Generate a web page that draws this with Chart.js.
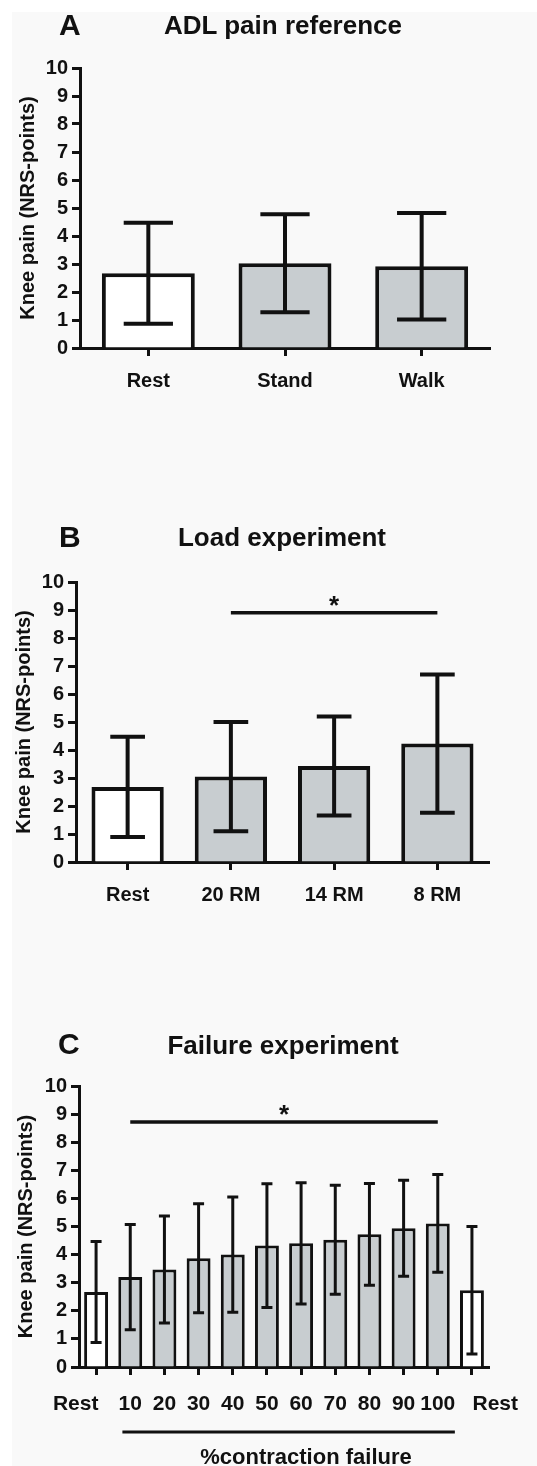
<!DOCTYPE html>
<html>
<head>
<meta charset="utf-8">
<title>Knee pain</title>
<script src="https://cdn.jsdelivr.net/npm/chart.js@4.4.1/dist/chart.umd.min.js"></script>
<style>
  html,body{margin:0;padding:0;background:#fff;}
  body{position:relative;width:537px;height:1466px;overflow:hidden;font-family:'Liberation Sans',Arial,Helvetica,sans-serif;color:#111;}
  #bg{position:absolute;left:12px;top:12px;right:0;bottom:0;background:#f9f9f9;}
  canvas{position:absolute;left:0;}
  .txt{position:absolute;font-weight:bold;white-space:nowrap;line-height:1;}
  .mid{transform:translateX(-50%);}
</style>
</head>
<body>
<div id="bg"></div>
<canvas id="chartA" width="537" height="420" style="top:0"></canvas>
<canvas id="chartB" width="537" height="420" style="top:500px"></canvas>
<canvas id="chartC" width="537" height="466" style="top:1000px"></canvas>

<div class="txt" style="left:59px;top:10px;font-size:30px">A</div>
<div class="txt mid" style="left:283px;top:12px;font-size:26px">ADL pain reference</div>
<div class="txt" style="left:59px;top:522px;font-size:30px">B</div>
<div class="txt mid" style="left:282px;top:524px;font-size:26px">Load experiment</div>
<div class="txt" style="left:58px;top:1029px;font-size:30px">C</div>
<div class="txt mid" style="left:283px;top:1032px;font-size:26px">Failure experiment</div>
<div class="txt mid" style="left:306px;top:1446px;font-size:22px">%contraction failure</div>

<script>
// ---------------- DATA ----------------
const adlLabels = ['Rest', 'Stand', 'Walk'];
const adlMean = [2.67, 3.03, 2.92];
const adlSD = [1.80, 1.75, 1.90];

const loadLabels = ['Rest', '20 RM', '14 RM', '8 RM'];
const loadMean = [2.68, 3.05, 3.43, 4.23];
const loadSD = [1.79, 1.95, 1.77, 2.47];
const loadSig = [1, 3, 8.9];          // from category, to category, level

const failLabels = ['Rest', '10', '20', '30', '40', '50', '60', '70', '80', '90', '100', 'Rest'];
const failMean = [2.67, 3.20, 3.47, 3.87, 4.00, 4.32, 4.40, 4.53, 4.72, 4.94, 5.11, 2.73];
const failSD = [1.80, 1.87, 1.90, 1.94, 2.05, 2.20, 2.16, 1.94, 1.81, 1.71, 1.74, 2.27];
const failSig = [1, 10, 8.72];
const failGroup = [0.77, 10.5];       // %contraction failure bracket

const FONT = "'Liberation Sans', Arial, Helvetica, sans-serif";
const INK = '#111';
const GREY = '#c8cdd0';

// ---------------- PLUGINS ----------------
const errorBars = {
  id: 'errorBars',
  afterDatasetsDraw(chart, args, o) {
    const {ctx, scales: {y}} = chart;
    const means = chart.data.datasets[0].data;
    ctx.save();
    ctx.strokeStyle = INK;
    ctx.lineWidth = o.width;
    chart.getDatasetMeta(0).data.forEach((bar, i) => {
      const hi = y.getPixelForValue(means[i] + o.sd[i]);
      const lo = y.getPixelForValue(means[i] - o.sd[i]);
      const half = bar.width * o.cap / 2;
      ctx.beginPath();
      ctx.moveTo(bar.x, lo); ctx.lineTo(bar.x, hi);
      ctx.moveTo(bar.x - half, hi); ctx.lineTo(bar.x + half, hi);
      ctx.moveTo(bar.x - half, lo); ctx.lineTo(bar.x + half, lo);
      ctx.stroke();
    });
    ctx.restore();
  }
};

const sigLine = {
  id: 'sigLine',
  afterDraw(chart, args, o) {
    const {ctx, chartArea, scales: {x, y}} = chart;
    ctx.save();
    ctx.strokeStyle = INK;
    ctx.fillStyle = INK;
    ctx.lineWidth = 3.5;
    if (o.sig) {
      const x1 = x.getPixelForValue(o.sig[0]), x2 = x.getPixelForValue(o.sig[1]);
      const yy = y.getPixelForValue(o.sig[2]);
      ctx.beginPath(); ctx.moveTo(x1, yy); ctx.lineTo(x2, yy); ctx.stroke();
      ctx.font = 'bold 26px ' + FONT;
      ctx.textAlign = 'center';
      ctx.textBaseline = 'alphabetic';
      ctx.fillText('*', (x1 + x2) / 2, yy + 1);
    }
    if (o.group) {
      const gy = chartArea.bottom + o.gap;
      ctx.lineWidth = 3;
      ctx.beginPath();
      ctx.moveTo(x.getPixelForValue(o.group[0]), gy);
      ctx.lineTo(x.getPixelForValue(o.group[1]), gy);
      ctx.stroke();
    }
    ctx.restore();
  }
};

// ---------------- CHARTS ----------------
function buildChart(id, labels, means, sd, opt) {
  const xTicks = {font: {family: FONT, size: opt.xFont, weight: 'bold'}, color: INK, padding: opt.xPad,
                  autoSkip: false, maxRotation: 0, minRotation: 0};
  if (opt.xCb) xTicks.callback = opt.xCb;
  return new Chart(document.getElementById(id), {
    type: 'bar',
    data: {
      labels: labels,
      datasets: [{
        data: means,
        backgroundColor: labels.map(l => l === 'Rest' ? '#ffffff' : GREY),
        borderColor: INK,
        borderWidth: opt.border,
        borderSkipped: 'bottom',
        barPercentage: opt.barPct,
        categoryPercentage: 1
      }]
    },
    options: {
      responsive: false,
      animation: false,
      layout: {padding: opt.pad},
      plugins: {
        legend: {display: false},
        tooltip: {enabled: false},
        errorBars: {sd: sd, width: opt.err, cap: opt.cap},
        sigLine: {sig: opt.sig, group: opt.group, gap: opt.gap}
      },
      scales: {
        x: {
          offset: true,
          grid: {offset: false, drawOnChartArea: false, drawTicks: true, tickLength: 8, tickWidth: 3, color: INK},
          border: {display: true, color: INK, width: 3},
          ticks: xTicks,
          afterFit: s => { s.height = 50; }
        },
        y: {
          min: 0, max: 10,
          ticks: {stepSize: 1, font: {family: FONT, size: 20, weight: 'bold'}, color: INK, padding: 4},
          grid: {drawOnChartArea: false, tickLength: 8, tickWidth: 3, color: INK},
          border: {display: true, color: INK, width: 3},
          title: {display: true, text: 'Knee pain (NRS-points)', color: INK,
                  font: {family: FONT, size: 20, weight: 'bold'}, padding: {top: opt.titlePad}},
          afterFit: s => { s.width = opt.yW; }
        }
      }
    },
    plugins: [errorBars, sigLine]
  });
}

buildChart('chartA', adlLabels, adlMean, adlSD, {
  pad: {left: 0, right: 47, top: 68, bottom: 22},
  yW: 80, titlePad: 16, border: 4, err: 4, cap: 0.53, barPct: 0.68, xFont: 20, xPad: 13
});

buildChart('chartB', loadLabels, loadMean, loadSD, {
  pad: {left: 0, right: 48, top: 82, bottom: 8},
  yW: 76, titlePad: 12, border: 4, err: 4, cap: 0.48, barPct: 0.70, xFont: 20, xPad: 13,
  sig: loadSig
});

buildChart('chartC', failLabels, failMean, failSD, {
  pad: {left: 0, right: 47, top: 86, bottom: 49},
  yW: 79, titlePad: 14, border: 3, err: 3, cap: 0.46, barPct: 0.70, xFont: 21, xPad: 17,
  sig: failSig, group: failGroup, gap: 65,
  xCb: function(v, i) {
    const t = this.getLabelForValue(v);
    if (i === 0) return t + '       ';
    if (i === failLabels.length - 1) return '        ' + t;
    return t;
  }
});
</script>
</body>
</html>
